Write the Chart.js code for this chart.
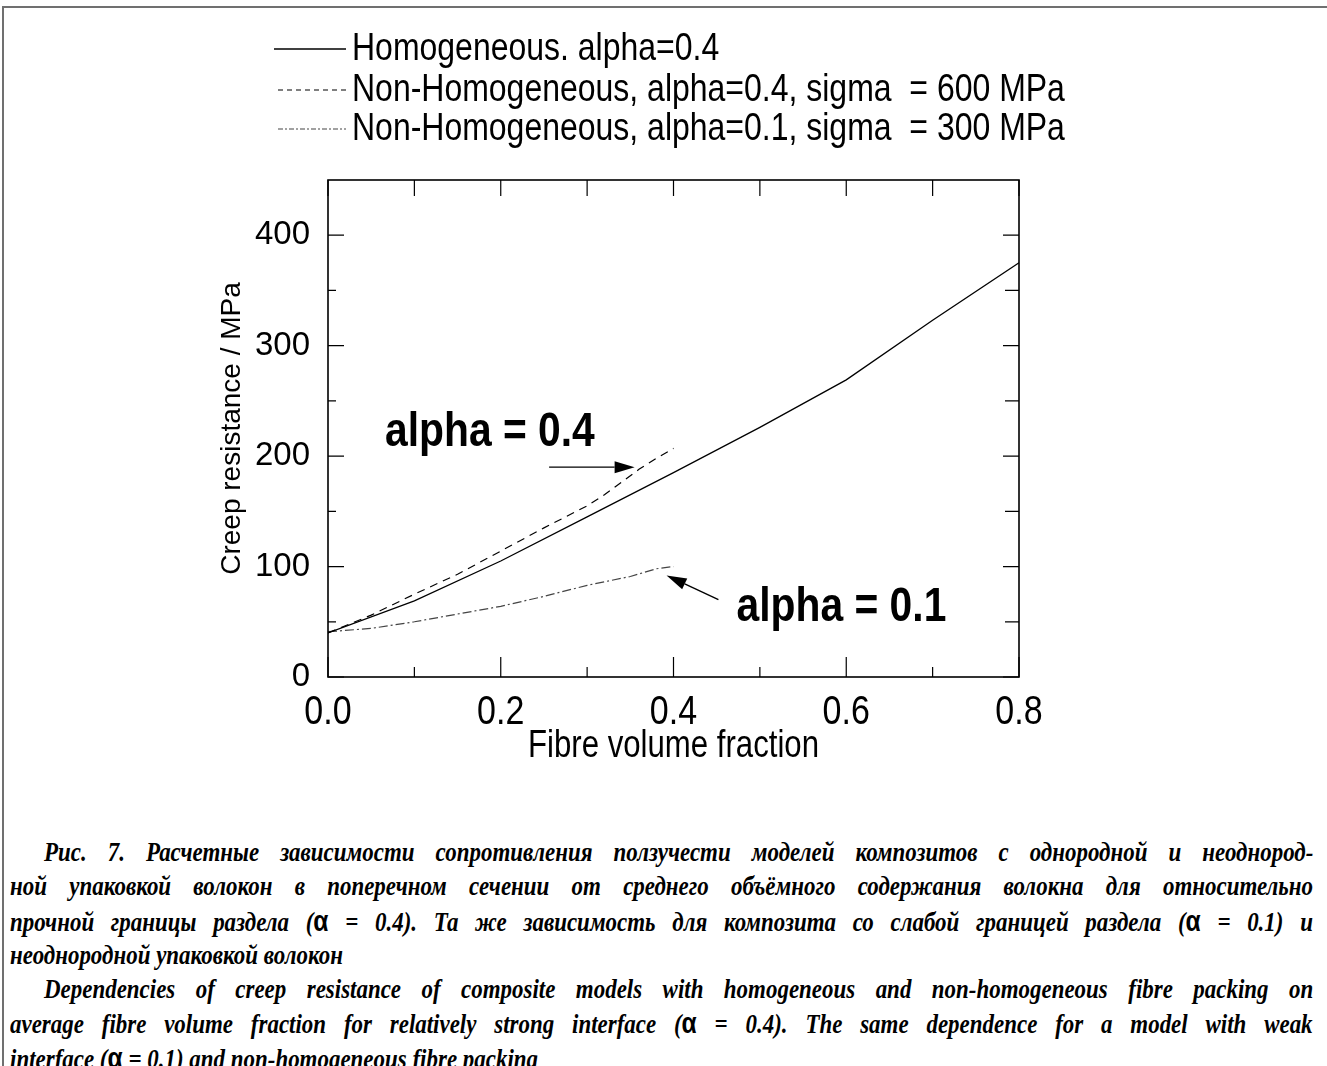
<!DOCTYPE html>
<html>
<head>
<meta charset="utf-8">
<title>Creep resistance vs fibre volume fraction</title>
<script src="https://cdn.jsdelivr.net/npm/chart.js@4.4.1/dist/chart.umd.min.js"></script>
<style>
  html, body { margin: 0; padding: 0; background: #fff; }
  body { width: 1327px; height: 1066px; position: relative; overflow: hidden; }
  .frame {
    position: absolute; left: 2px; top: 6px; right: -10px; bottom: -10px;
    border-top: 2px solid #707070; border-left: 2px solid #707070;
  }
  .plot { position: absolute; left: 0; top: 0; width: 1327px; height: 800px; }
  .caption {
    position: absolute; left: 10px; top: 835px; width: 1303px;
    font-family: "Liberation Serif", "Times New Roman", serif;
    font-weight: bold; font-style: italic; font-size: 27px; line-height: 34.3px; color: #000;
  }
  .caption .ln { white-space: nowrap; height: 34.3px; }
  .caption .ln.ind { padding-left: 34px; }
  .caption .ln > span { display: inline-block; transform-origin: 0 50%; }
  .caption .a { font-family: "Liberation Sans", Arial, sans-serif; font-style: normal; font-size: 29px; }
</style>
</head>
<body>
<div class="frame"></div>
<div class="plot"><canvas id="creepChart"></canvas></div>
<div class="caption">
  <div class="ln ind"><span>Рис. 7. Расчетные зависимости сопротивления ползучести моделей композитов с однородной и неоднород-</span></div>
  <div class="ln"><span>ной упаковкой волокон в поперечном сечении от среднего объёмного содержания волокна для относительно</span></div>
  <div class="ln"><span>прочной границы раздела (<span class="a">α</span> = 0.4). Та же зависимость для композита со слабой границей раздела (<span class="a">α</span> = 0.1) и</span></div>
  <div class="ln end"><span>неоднородной упаковкой волокон</span></div>
  <div class="ln ind"><span>Dependencies of creep resistance of composite models with homogeneous and non-homogeneous fibre packing on</span></div>
  <div class="ln"><span>average fibre volume fraction for relatively strong interface (<span class="a">α</span> = 0.4). The same dependence for a model with weak</span></div>
  <div class="ln end"><span>interface (<span class="a">α</span> = 0.1) and non-homogeneous fibre packing</span></div>
</div>
<script>
// series: fibre volume fraction -> creep resistance (MPa)
const xHom = [0, 0.1, 0.2, 0.3, 0.4, 0.5, 0.6, 0.7, 0.8];
const yHom = [40, 69, 105, 145, 185, 226, 269, 323, 375];

const xNonHom04 = [0, 0.05, 0.1, 0.15, 0.2, 0.25, 0.3, 0.32, 0.36, 0.38, 0.4];
const yNonHom04 = [40, 56, 75, 93, 114, 135, 155, 165, 188, 198, 207];

const xNonHom01 = [0, 0.05, 0.1, 0.15, 0.2, 0.25, 0.3, 0.35, 0.38, 0.4];
const yNonHom01 = [41, 44, 50, 57, 64, 73, 83, 91, 98, 100];

const seriesNames = [
  'Homogeneous. alpha=0.4',
  'Non-Homogeneous, alpha=0.4, sigma  = 600 MPa',
  'Non-Homogeneous, alpha=0.1, sigma  = 300 MPa'
];

// axis ticks
const xTicks = [0, 0.2, 0.4, 0.6, 0.8];
const xTickLabels = ['0.0', '0.2', '0.4', '0.6', '0.8'];
const xMinorTicks = [0.1, 0.3, 0.5, 0.7];
const yTicks = [0, 100, 200, 300, 400];
const yTickLabels = ['0', '100', '200', '300', '400'];
const yMinorTicks = [50, 150, 250, 350];

// text callouts with arrows (data coordinates)
const callouts = [
  { text: 'alpha = 0.4', x: 0.066, y: 221, from: [0.256, 190], to: [0.355, 190] },
  { text: 'alpha = 0.1', x: 0.473, y: 63, from: [0.452, 70], to: [0.392, 92] }
];

const SANS = "'Liberation Sans', Arial, sans-serif";
const CAPTION_CONDENSE = 0.85;

function zip(xs, ys) {
  return xs.map((x, i) => ({ x: x, y: ys[i] }));
}

// condensed text: squeeze horizontally around the anchor point
function narrowText(ctx, text, x, y, sx, align) {
  ctx.save();
  ctx.translate(x, y);
  ctx.scale(sx, 1);
  ctx.textAlign = align || 'left';
  ctx.fillText(text, 0, 0);
  ctx.restore();
}

function drawArrow(ctx, x1, y1, x2, y2) {
  const ang = Math.atan2(y2 - y1, x2 - x1);
  const len = 20, half = 6;
  const bx = x2 - len * Math.cos(ang), by = y2 - len * Math.sin(ang);
  ctx.beginPath();
  ctx.moveTo(x1, y1);
  ctx.lineTo(bx, by);
  ctx.stroke();
  ctx.beginPath();
  ctx.moveTo(x2, y2);
  ctx.lineTo(bx + half * Math.sin(ang), by - half * Math.cos(ang));
  ctx.lineTo(bx - half * Math.sin(ang), by + half * Math.cos(ang));
  ctx.closePath();
  ctx.fill();
}

// frame, inward ticks, x labels, legend and callouts
const plotDecor = {
  id: 'plotDecor',
  afterDraw(chart) {
    const { ctx, chartArea: a, scales: { x, y } } = chart;
    ctx.save();
    ctx.strokeStyle = '#000';
    ctx.fillStyle = '#000';

    ctx.lineWidth = 1.6;
    ctx.strokeRect(a.left, a.top, a.right - a.left, a.bottom - a.top);

    ctx.lineWidth = 1.2;
    ctx.beginPath();
    const vTick = (v, lenBottom, lenTop) => {
      const px = x.getPixelForValue(v);
      ctx.moveTo(px, a.bottom); ctx.lineTo(px, a.bottom - lenBottom);
      ctx.moveTo(px, a.top); ctx.lineTo(px, a.top + lenTop);
    };
    const hTick = (v, lenLeft, lenRight) => {
      const py = y.getPixelForValue(v);
      ctx.moveTo(a.left, py); ctx.lineTo(a.left + lenLeft, py);
      ctx.moveTo(a.right, py); ctx.lineTo(a.right - lenRight, py);
    };
    xTicks.forEach(v => vTick(v, 20, 16));
    xMinorTicks.forEach(v => vTick(v, 10, 16));
    yTicks.forEach(v => hTick(v, 16, 16));
    yMinorTicks.forEach(v => hTick(v, 8, 14));
    ctx.stroke();

    // x tick labels and axis title
    ctx.textBaseline = 'middle';
    ctx.font = '40px ' + SANS;
    xTicks.forEach((v, i) => {
      narrowText(ctx, xTickLabels[i], x.getPixelForValue(v), a.bottom + 36, 0.85, 'center');
    });
    ctx.font = '38px ' + SANS;
    narrowText(ctx, 'Fibre volume fraction', (a.left + a.right) / 2, a.bottom + 70, 0.82, 'center');

    // legend above the plot
    ctx.font = '39px ' + SANS;
    const rowY = [49, 90, 129];
    chart.data.datasets.forEach((ds, i) => {
      ctx.save();
      ctx.strokeStyle = ds.borderColor;
      ctx.lineWidth = ds.borderWidth;
      ctx.setLineDash(i === 0 ? [] : (i === 1 ? [5, 4] : [5, 2, 2, 2]));
      ctx.beginPath();
      ctx.moveTo(i === 0 ? 274 : 278, rowY[i]);
      ctx.lineTo(346, rowY[i]);
      ctx.stroke();
      ctx.restore();
      narrowText(ctx, ds.label, 352, rowY[i], 0.82);
    });

    // callouts
    ctx.font = 'bold 48px ' + SANS;
    ctx.lineWidth = 1.4;
    callouts.forEach(c => {
      narrowText(ctx, c.text, x.getPixelForValue(c.x), y.getPixelForValue(c.y), 0.85);
      drawArrow(ctx,
        x.getPixelForValue(c.from[0]), y.getPixelForValue(c.from[1]),
        x.getPixelForValue(c.to[0]), y.getPixelForValue(c.to[1]));
    });
    ctx.restore();
  }
};

// condensed caption type; full lines are justified by widening the word gaps
function fitCaption() {
  const full = document.querySelector('.caption').clientWidth;
  document.querySelectorAll('.caption .ln').forEach(ln => {
    const span = ln.firstElementChild;
    let squeeze = CAPTION_CONDENSE;
    if (!ln.classList.contains('end')) {
      const avail = full - (ln.classList.contains('ind') ? 34 : 0);
      const gaps = (span.textContent.match(/ /g) || []).length;
      const extra = avail / squeeze - span.offsetWidth;
      if (extra > 0) {
        span.style.wordSpacing = (extra / gaps) + 'px';
      } else {
        squeeze = avail / span.offsetWidth;
      }
    }
    span.style.transform = 'scaleX(' + squeeze + ')';
  });
}

document.addEventListener('DOMContentLoaded', function () {
  fitCaption();

  const ctx = document.getElementById('creepChart').getContext('2d');

  new Chart(ctx, {
    type: 'line',
    data: {
      datasets: [
        {
          label: seriesNames[0],
          data: zip(xHom, yHom),
          borderColor: '#000',
          borderWidth: 1.3
        },
        {
          label: seriesNames[1],
          data: zip(xNonHom04, yNonHom04),
          borderColor: '#000',
          borderWidth: 1.2,
          borderDash: [8, 6]
        },
        {
          label: seriesNames[2],
          data: zip(xNonHom01, yNonHom01),
          borderColor: '#444',
          borderWidth: 1.2,
          borderDash: [9, 3, 2, 3]
        }
      ]
    },
    options: {
      responsive: true,
      maintainAspectRatio: false,
      animation: false,
      elements: { point: { radius: 0 }, line: { tension: 0 } },
      layout: { padding: { left: 0, top: 180, right: 308, bottom: 0 } },
      plugins: { legend: { display: false }, tooltip: { enabled: false } },
      scales: {
        x: {
          type: 'linear',
          min: 0,
          max: 0.8,
          afterBuildTicks: s => { s.ticks = xTicks.map(v => ({ value: v })); },
          afterFit: s => { s.height = 123; },
          grid: { display: false, drawTicks: false },
          border: { display: false },
          ticks: { display: false }
        },
        y: {
          type: 'linear',
          min: 0,
          max: 450,
          afterBuildTicks: s => { s.ticks = yTicks.map(v => ({ value: v })); },
          afterFit: s => { s.width = 328; },
          grid: { display: false, drawTicks: false },
          border: { display: false },
          ticks: {
            color: '#000',
            padding: 18,
            autoSkip: false,
            font: { family: SANS, size: 33 },
            callback: (v) => yTickLabels[yTicks.indexOf(v)]
          },
          title: {
            display: true,
            text: 'Creep resistance / MPa',
            color: '#000',
            font: { family: SANS, size: 28 },
            padding: { top: 215, bottom: 0 }
          }
        }
      }
    },
    plugins: [plotDecor]
  });
});
</script>
</body>
</html>
